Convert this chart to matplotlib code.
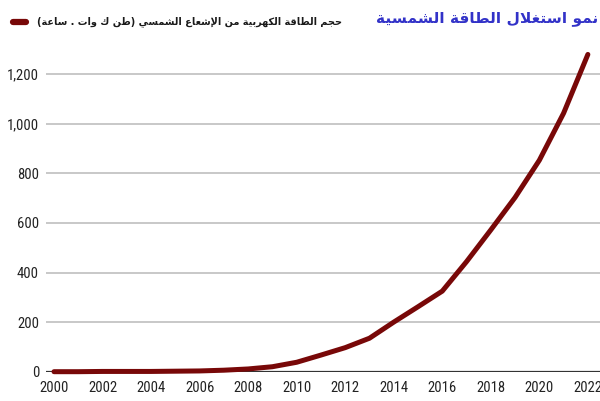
import matplotlib
matplotlib.use("Agg")
import matplotlib.pyplot as plt
from matplotlib.lines import Line2D

# data
years = list(range(2000, 2023))
energy = [0, 0, 1, 1, 1, 2, 3, 6, 11, 20, 38, 67, 97, 135, 200, 262, 325,
          444, 572, 703, 853, 1043, 1280]
y_ticks = [0, 200, 400, 600, 800, 1000, 1200]
x_ticks = list(range(2000, 2023, 2))

title_txt = "نمو استغلال الطاقة الشمسية"
legend_txt = "حجم الطاقة الكهربية من الإشعاع الشمسي (طن ك وات . ساعة)"

# small arabic shaper: matplotlib draws glyphs left to right without joining
FORMS = {}
for ch, base in zip("بتثجحخسشصضطظعغفقكلمنهي",
                    [0xFE8F, 0xFE95, 0xFE99, 0xFE9D, 0xFEA1, 0xFEA5, 0xFEB1,
                     0xFEB5, 0xFEB9, 0xFEBD, 0xFEC1, 0xFEC5, 0xFEC9, 0xFECD,
                     0xFED1, 0xFED5, 0xFED9, 0xFEDD, 0xFEE1, 0xFEE5, 0xFEE9,
                     0xFEF1]):
    FORMS[ch] = (base, base + 1, base + 2, base + 3)
for ch, base in zip("آأؤإاةدذرزوى",
                    [0xFE81, 0xFE83, 0xFE85, 0xFE87, 0xFE8D, 0xFE93, 0xFEA9,
                     0xFEAB, 0xFEAD, 0xFEAF, 0xFEED, 0xFEEF]):
    FORMS[ch] = (base, base + 1, None, None)
FORMS["ء"] = (0xFE80, None, None, None)
LAMALEF = {"ا": (0xFEFB, 0xFEFC), "أ": (0xFEF7, 0xFEF8),
           "إ": (0xFEF9, 0xFEFA), "آ": (0xFEF5, 0xFEF6)}


def shape(s):
    out = []
    n = len(s)

    def joins_prev(i):
        return i > 0 and s[i - 1] in FORMS and FORMS[s[i - 1]][2] is not None

    i = 0
    while i < n:
        c = s[i]
        if c not in FORMS:
            out.append(c)
            i += 1
            continue
        if c == "ل" and i + 1 < n and s[i + 1] in LAMALEF:
            iso, fin = LAMALEF[s[i + 1]]
            out.append(chr(fin if joins_prev(i) else iso))
            i += 2
            continue
        f = FORMS[c]
        jp = joins_prev(i)
        jn = i + 1 < n and s[i + 1] in FORMS
        if jp and jn and f[3] is not None:
            code = f[3]
        elif jn and not jp and f[2] is not None:
            code = f[2]
        elif jp and f[1] is not None:
            code = f[1]
        else:
            code = f[0]
        out.append(chr(code))
        i += 1
    mirror = {"(": ")", ")": "("}
    return "".join(mirror.get(c, c) for c in reversed(out))


def fit_width(txt, px):
    # DejaVu arabic runs wider than the original font, so size to the width
    r = fig.canvas.get_renderer()
    w = txt.get_window_extent(r).width
    txt.set_fontsize(txt.get_fontsize() * px / w)


tick_font = ["Liberation Sans Narrow", "Roboto Condensed", "Roboto", "DejaVu Sans"]
red = "#780808"

fig = plt.figure(figsize=(6, 4.01), dpi=100)
ax = fig.add_axes([46 / 600, 0.0731, 1 - 46 / 600, 0.8035])
ax.set_xlim(1999.67, 2022.5)
ax.set_ylim(0, 1300)

ax.plot(years, energy, color=red, lw=3.6, solid_capstyle="round",
        solid_joinstyle="round", clip_on=False, zorder=3)

ax.set_yticks(y_ticks)
ax.set_yticklabels([f"{v:,}" for v in y_ticks], family=tick_font, fontsize=10.5,
                   color="#222222")
ax.set_xticks(x_ticks)
ax.set_xticklabels([str(v) for v in x_ticks], family=tick_font, fontsize=10.5,
                   color="#222222")
ax.tick_params(axis="both", length=0)
ax.tick_params(axis="x", pad=7)
ax.tick_params(axis="y", pad=5)
for sp in ax.spines.values():
    sp.set_visible(False)
ax.yaxis.grid(True, color="#c4c4c4", lw=1.3)
ax.set_axisbelow(True)
ax.axhline(0, color="#333333", lw=1.6, zorder=2)

# legend and title drawn at figure level
fig.add_artist(Line2D([13 / 600, 26 / 600], [1 - 22 / 401] * 2, color=red,
                      lw=4.5, solid_capstyle="round"))
leg = fig.text(37 / 600, 1 - 22 / 401, shape(legend_txt), fontsize=8.5,
               weight="bold", color="#1a1a1a", ha="left", va="center",
               family="DejaVu Sans")
ttl = fig.text(376 / 600, 1 - 18 / 401, shape(title_txt), fontsize=19,
               weight="bold", color="#3232c8", ha="left", va="center",
               family="DejaVu Sans")
fit_width(leg, 306)
fit_width(ttl, 222)

fig.savefig("out.png", dpi=100)
